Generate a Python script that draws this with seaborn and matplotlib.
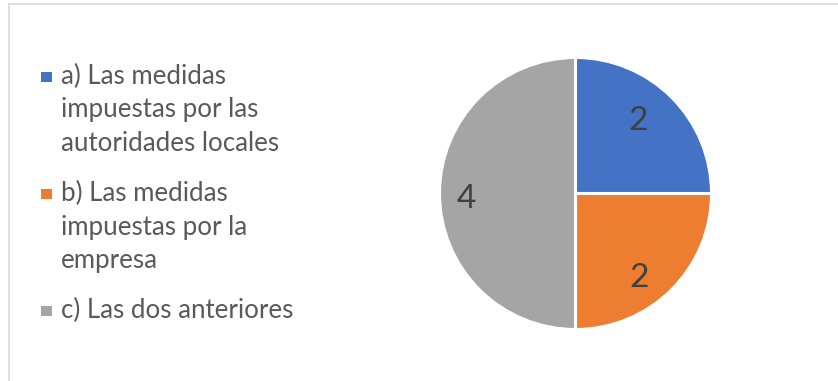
import numpy as np
import matplotlib
matplotlib.use("Agg")
import matplotlib.pyplot as plt
import seaborn as sns
from matplotlib.lines import Line2D
from matplotlib.patches import Rectangle

categories = [
    "a) Las medidas\nimpuestas por las\nautoridades locales",
    "b) Las medidas\nimpuestas por la\nempresa",
    "c) Las dos anteriores",
]
values = [2, 2, 4]
colors = ["#4472C4", "#ED7D31", "#A5A5A5"]

# value-label placement inside each wedge (radius fraction, angular nudge in degrees)
label_dist = [0.72, 0.756, 0.805]
label_nudge = [5.0, -7.0, 1.5]

sns.set_theme(style="white")
plt.rcParams["font.family"] = ["Lato", "DejaVu Sans"]

W, H, DPI = 838, 381, 100
fig = plt.figure(figsize=(W / DPI, H / DPI), dpi=DPI)
fig.patch.set_facecolor("white")

# chart frame: only its top and left edges fall inside the canvas
fig.add_artist(Line2D([9 / W, 9 / W], [0, 1 - 4 / H], transform=fig.transFigure,
                      color="#D9D9D9", lw=1.2))
fig.add_artist(Line2D([9 / W, 1], [1 - 4 / H, 1 - 4 / H], transform=fig.transFigure,
                      color="#D9D9D9", lw=1.2))

cx, cy, r = 575.5, 193.5, 136
ax = fig.add_axes([(cx - r) / W, (H - cy - r) / H, 2 * r / W, 2 * r / H])
wedges, _ = ax.pie(values, colors=colors, startangle=90, counterclock=False,
                   wedgeprops=dict(edgecolor="white", linewidth=2.2))
ax.set_aspect("equal")
ax.set_xlim(-1, 1)
ax.set_ylim(-1, 1)

for w, v, d, nudge in zip(wedges, values, label_dist, label_nudge):
    ang = np.deg2rad((w.theta1 + w.theta2) / 2 + nudge)
    ax.text(d * np.cos(ang), d * np.sin(ang), str(v), ha="center", va="center_baseline",
            fontsize=24, color="#404040")

# legend: square key beside the first line of each wrapped label
line_px = 33.4
gap_px = 17.0
y = 84.0  # baseline of first line, pixels from top
for cat, col in zip(categories, colors):
    n = cat.count("\n") + 1
    fig.add_artist(Rectangle((41 / W, 1 - (y - 2) / H), 10.5 / W, 10.5 / H,
                             transform=fig.transFigure, facecolor=col, edgecolor="none"))
    for i, line in enumerate(cat.split("\n")):
        fig.text(61 / W, 1 - (y + i * line_px) / H, line, ha="left", va="baseline",
                 fontsize=18.6, color="#595959")
    y += n * line_px + gap_px

fig.savefig("out.png", dpi=DPI, facecolor="white")
